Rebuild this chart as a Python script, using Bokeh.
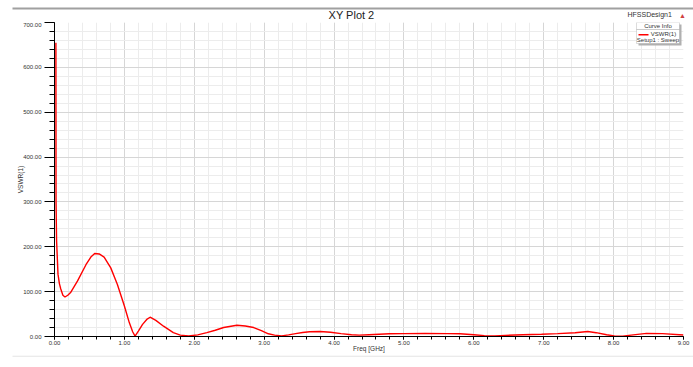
from bokeh.plotting import figure
from bokeh.layouts import column, row
from bokeh.models import (NumeralTickFormatter, SingleIntervalTicker, Label, BoxAnnotation,
                          Range1d)
from bokeh.embed import file_html
from bokeh.resources import INLINE

# ---- data ----
freq_ghz = [0.020, 0.022, 0.030, 0.050, 0.070, 0.090, 0.120, 0.150, 0.190, 0.230,
            0.330, 0.450, 0.520, 0.575, 0.640, 0.710, 0.805, 0.900, 1.000, 1.070,
            1.120, 1.153, 1.200, 1.260, 1.320, 1.368, 1.450, 1.560, 1.700, 1.800,
            1.920, 2.050, 2.180, 2.300, 2.420, 2.610, 2.730, 2.850, 2.960, 3.060,
            3.150, 3.250, 3.350, 3.450, 3.550, 3.650, 3.800, 3.950, 4.100, 4.250,
            4.360, 4.500, 4.790, 5.000, 5.300, 5.620, 5.800, 6.000, 6.150, 6.300,
            6.450, 6.700, 6.970, 7.200, 7.450, 7.630, 7.750, 7.900, 8.010, 8.130,
            8.250, 8.470, 8.700, 9.000]
vswr = [655, 300, 213, 139, 118, 106, 92, 88, 92, 98,
        124, 160, 177, 185, 184, 177, 153, 116, 68, 31,
        10, 1, 12, 27, 38, 43, 36, 23, 8.5, 3,
        1, 3.5, 8.5, 14, 20, 25, 23.5, 20, 13, 6,
        3, 1.5, 3.5, 6.5, 9, 10.5, 11, 9.5, 6.5, 4,
        3, 4, 6, 6.5, 7, 6.5, 6, 4, 2, 1,
        2.5, 4, 5, 6.5, 8.5, 11, 8.5, 4, 1.5, 0.5,
        3, 7, 6.5, 3.5]

title_text = "XY Plot 2"
design_text = "HFSSDesign1"
x_label = "Freq [GHz]"
y_label = "VSWR(1)"
legend_head = "Curve Info"
legend_line1 = "VSWR(1)"
legend_line2 = "Setup1 : Sweep"

FONT = "Liberation Sans"
W, H = 693, 367
TOP_H = 22          # header strip height
BL, BR, BB = 54, 10, 19
FRAME_H = 336 - TOP_H
MAIN_H = FRAME_H + BB
FOOT_H = H - TOP_H - MAIN_H


def sx(px):
    # page pixel x -> annotation screen units of main plot (from frame left)
    return px - BL


def sy(py):
    # page pixel y -> annotation screen units of main plot (from frame bottom)
    return (TOP_H + FRAME_H) - py


# ---------- header strip ----------
top = figure(width=W, height=TOP_H, output_backend="svg", toolbar_location=None,
             x_range=Range1d(0, W), y_range=Range1d(TOP_H, 0),
             min_border=0, x_axis_type=None, y_axis_type=None)
top.outline_line_color = None
top.grid.visible = False
top.border_fill_color = "white"
top.add_layout(BoxAnnotation(left=12, right=W, top=7, bottom=9,
                             fill_color="#a0a0a0", fill_alpha=1, line_color=None))
top.add_layout(Label(x=351, y=14, text=title_text, text_font=FONT, text_font_size="11px",
                     text_align="center", text_baseline="middle", text_color="#222222"))
top.add_layout(Label(x=627, y=14, text=design_text, text_font=FONT, text_font_size="7px",
                     text_align="left", text_baseline="middle", text_color="#333333"))
top.add_layout(Label(x=682, y=15, text="\u25b2", text_font=FONT, text_font_size="7px",
                     text_align="center", text_baseline="middle", text_color="#d04040"))

# ---------- main plot ----------
p = figure(width=W, height=MAIN_H, output_backend="svg", toolbar_location=None,
           x_range=Range1d(0, 9), y_range=Range1d(0, 700),
           min_border_left=BL, min_border_right=BR, min_border_top=0, min_border_bottom=BB)
p.background_fill_color = "white"
p.border_fill_color = "white"
p.outline_line_color = None

p.xaxis.ticker = SingleIntervalTicker(interval=1, num_minor_ticks=5)
p.yaxis.ticker = SingleIntervalTicker(interval=100, num_minor_ticks=5)
p.xaxis.formatter = NumeralTickFormatter(format="0.00")
p.yaxis.formatter = NumeralTickFormatter(format="0.00")

for ax in (p.xaxis, p.yaxis):
    ax.axis_line_color = "black"
    ax.major_tick_line_color = "black"
    ax.minor_tick_line_color = "black"
    ax.major_label_text_font = FONT
    ax.major_label_text_font_size = "6px"
    ax.major_label_text_color = "#333333"
    ax.axis_label_text_font = FONT
    ax.axis_label_text_font_size = "6.5px"
    ax.axis_label_text_font_style = "normal"
    ax.axis_label_text_color = "#333333"
    ax.major_tick_in = 0
    ax.minor_tick_in = 0

p.yaxis.major_tick_out = 10
p.yaxis.minor_tick_out = 5
p.yaxis.major_label_standoff = 3
p.yaxis.axis_label = y_label
p.yaxis.axis_label_standoff = -4

p.xaxis.major_tick_out = 3
p.xaxis.minor_tick_out = 3
p.xaxis.major_label_standoff = 1
p.xaxis.axis_label = x_label
p.xaxis.axis_label_standoff = -3

for g in (p.xgrid, p.ygrid):
    g.grid_line_color = "#d6d6d6"
    g.grid_line_width = 1
    g.minor_grid_line_color = "#ececec"
    g.minor_grid_line_width = 1

p.line(freq_ghz, vswr, line_color="#ff0000", line_width=1.4)

scr = dict(left_units="screen", right_units="screen", top_units="screen", bottom_units="screen")

# curve info box
p.add_layout(BoxAnnotation(left=sx(638), right=sx(681), top=sy(24), bottom=sy(45),
                           fill_color="#b0b0b0", fill_alpha=1, line_color=None, **scr))
p.add_layout(BoxAnnotation(left=sx(636), right=sx(679), top=sy(22), bottom=sy(43),
                           fill_color="white", fill_alpha=1, line_color="#8a8a8a",
                           line_width=1, **scr))
p.add_layout(BoxAnnotation(left=sx(636), right=sx(679), top=sy(29), bottom=sy(29.6),
                           fill_color="#9a9a9a", fill_alpha=1, line_color=None, **scr))
p.add_layout(Label(x=sx(657.5), y=sy(25.5), x_units="screen", y_units="screen", text=legend_head,
                   text_font=FONT, text_font_size="6px", text_align="center",
                   text_baseline="middle", text_color="#333333"))
p.add_layout(BoxAnnotation(left=sx(638), right=sx(648), top=sy(33.6), bottom=sy(35),
                           fill_color="#ff0000", fill_alpha=1, line_color=None, **scr))
p.add_layout(Label(x=sx(663), y=sy(33.5), x_units="screen", y_units="screen", text=legend_line1,
                   text_font=FONT, text_font_size="6px", text_align="center",
                   text_baseline="middle", text_color="#333333"))
p.add_layout(Label(x=sx(657.5), y=sy(39.5), x_units="screen", y_units="screen", text=legend_line2,
                   text_font=FONT, text_font_size="6px", text_align="center",
                   text_baseline="middle", text_color="#333333"))

# ---------- footer strip ----------
foot = figure(width=W, height=FOOT_H, output_backend="svg", toolbar_location=None,
              x_range=Range1d(0, W), y_range=Range1d(FOOT_H, 0),
              min_border=0, x_axis_type=None, y_axis_type=None)
foot.outline_line_color = None
foot.grid.visible = False
foot.border_fill_color = "white"
foot.add_layout(BoxAnnotation(left=12, right=W, top=0, bottom=1.2,
                              fill_color="#e4e4e4", fill_alpha=1, line_color=None))

layout = column(row(top), p, row(foot), spacing=0)
out = file_html(layout, INLINE)
open("out.html", "w").write(out)
